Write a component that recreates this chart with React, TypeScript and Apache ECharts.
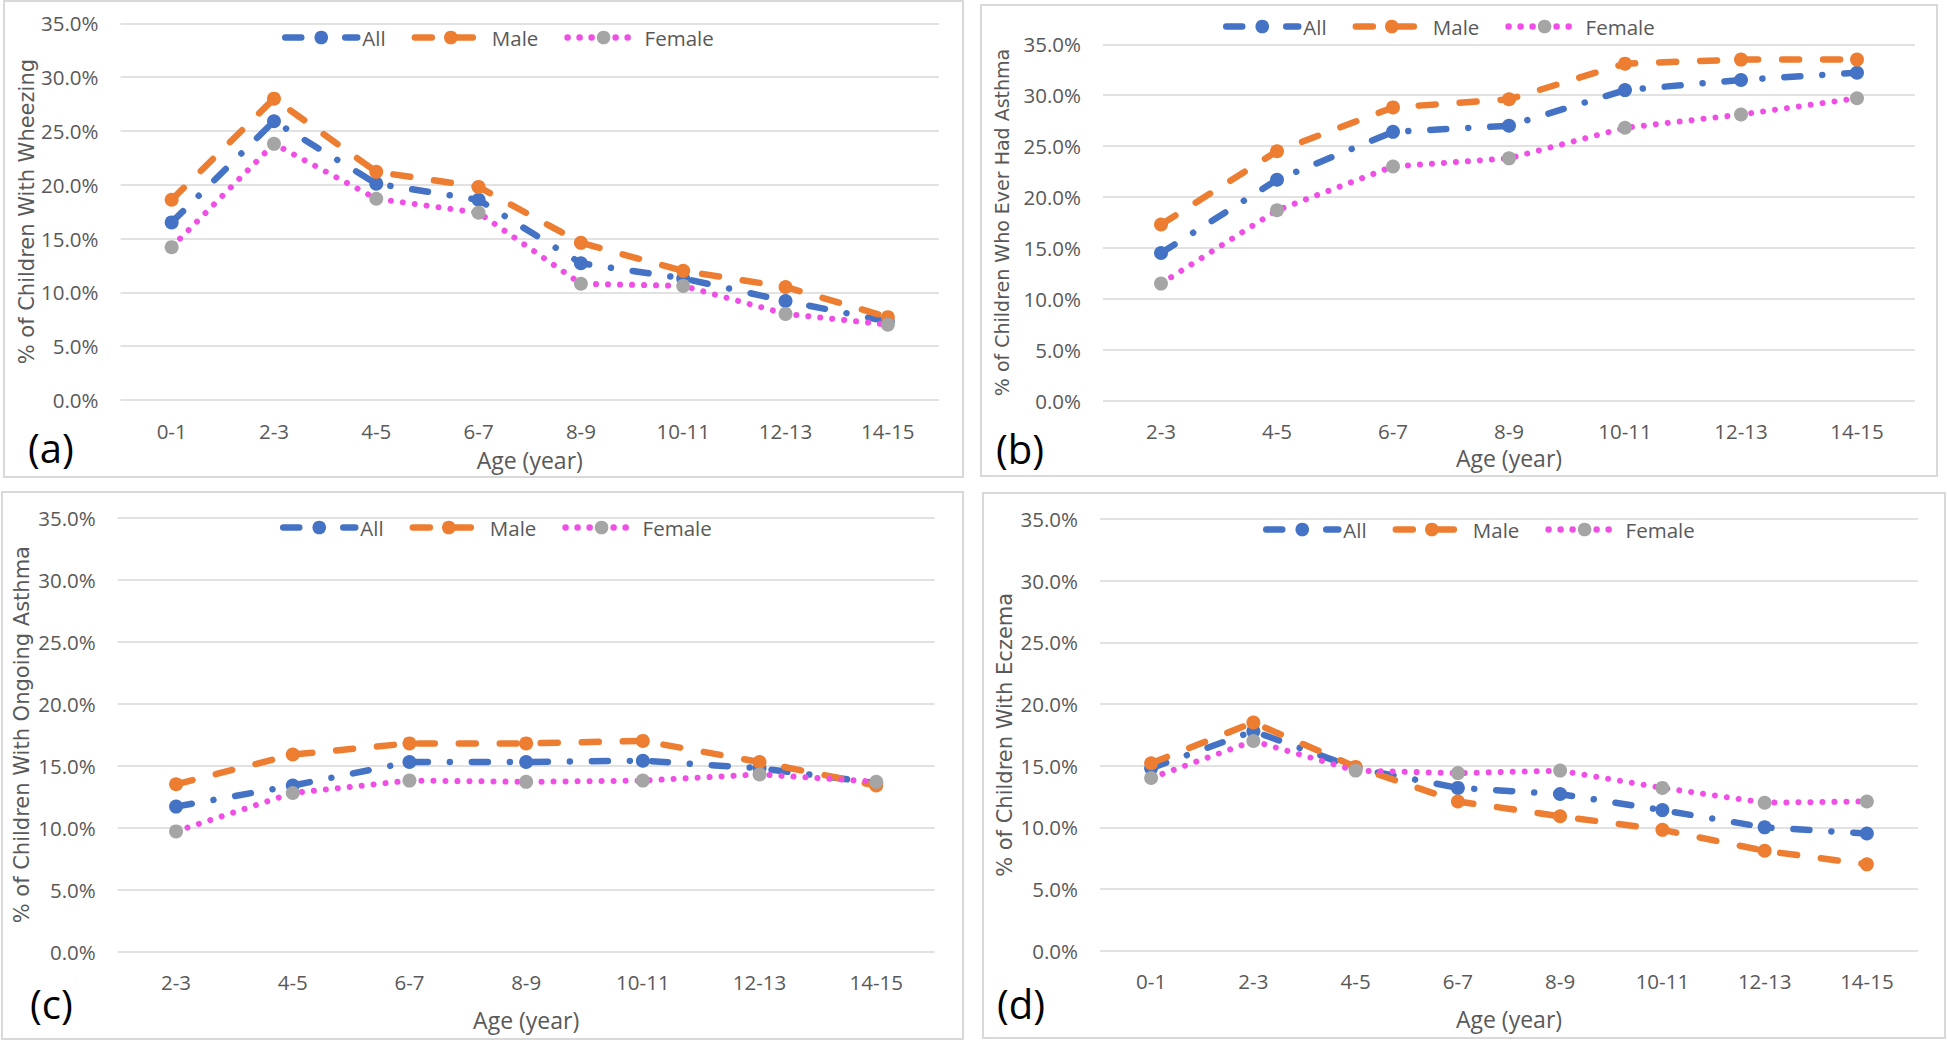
import React, { useEffect, useRef } from "react";
import * as echarts from "echarts";

// ---------- data ----------
const agesFrom0 = ["0-1", "2-3", "4-5", "6-7", "8-9", "10-11", "12-13", "14-15"];
const agesFrom2 = ["2-3", "4-5", "6-7", "8-9", "10-11", "12-13", "14-15"];

const wheezeAll = [16.5, 25.9, 20.1, 18.6, 12.7, 11.3, 9.2, 7.3];
const wheezeMale = [18.6, 28.0, 21.2, 19.8, 14.6, 12.0, 10.5, 7.7];
const wheezeFemale = [14.2, 23.8, 18.7, 17.4, 10.8, 10.6, 8.0, 7.0];

const everAll = [14.5, 21.7, 26.4, 27.0, 30.5, 31.5, 32.2];
const everMale = [17.3, 24.5, 28.8, 29.6, 33.1, 33.5, 33.5];
const everFemale = [11.5, 18.7, 23.0, 23.8, 26.8, 28.1, 29.7];

const ongoingAll = [11.7, 13.4, 15.3, 15.3, 15.4, 14.8, 13.6];
const ongoingMale = [13.5, 15.9, 16.8, 16.8, 17.0, 15.3, 13.4];
const ongoingFemale = [9.7, 12.8, 13.8, 13.7, 13.8, 14.3, 13.7];

const eczemaAll = [14.8, 17.8, 14.8, 13.2, 12.7, 11.4, 10.0, 9.5];
const eczemaMale = [15.2, 18.5, 14.9, 12.1, 10.9, 9.8, 8.1, 7.0];
const eczemaFemale = [14.0, 17.0, 14.6, 14.4, 14.6, 13.2, 12.0, 12.1];

const seriesNames = ["All", "Male", "Female"];
const yTitles = [
  "% of Children With Wheezing",
  "% of Children Who Ever Had Asthma",
  "% of Children With Ongoing Asthma",
  "% of Children With Eczema",
];
const panelLetters = ["(a)", "(b)", "(c)", "(d)"];
const xTitle = "Age (year)";

// ---------- layout / styles ----------
const layouts = [
  { grid: [120.5, 23.3, 818.5, 376.7], box: [4, 1, 959, 476], legend: [277, 22], letter: [28, 447], xGap: 48, yGap: 82, yFont: 21 },
  { grid: [1103, 44.3, 812, 356.4], box: [981, 5, 956, 471], legend: [1218, 11], letter: [996, 448], xGap: 46, yGap: 92, yFont: 19 },
  { grid: [117.7, 517.7, 816.9, 434], box: [2, 492, 961, 547], legend: [275, 512], letter: [30, 1003], xGap: 57, yGap: 85, yFont: 21 },
  { grid: [1100, 519, 818, 431.7], box: [983, 493, 962, 545], legend: [1258, 514], letter: [997, 1003], xGap: 57, yGap: 85, yFont: 21 },
];

const BLUE = "#4472C4";
const ORANGE = "#ED7D31";
const PINK = "#F04FE6";
const GRAY = "#A5A5A5";
const TEXT = "#595959";

const lineStyles = [
  { color: BLUE, width: 6.5, type: [16, 22, 0.01, 22], cap: "round" },
  { color: ORANGE, width: 6.5, type: [17, 24], cap: "round" },
  { color: PINK, width: 6, type: [0.01, 12], cap: "round" },
];
const markerColors = [BLUE, ORANGE, GRAY];

export default function App() {
  const ref = useRef<HTMLDivElement>(null);

  useEffect(() => {
    if (!ref.current) return;
    const chart = echarts.init(ref.current, undefined, { renderer: "svg" });

    const panelData = [
      { cats: agesFrom0, values: [wheezeAll, wheezeMale, wheezeFemale] },
      { cats: agesFrom2, values: [everAll, everMale, everFemale] },
      { cats: agesFrom2, values: [ongoingAll, ongoingMale, ongoingFemale] },
      { cats: agesFrom0, values: [eczemaAll, eczemaMale, eczemaFemale] },
    ];

    const series: any[] = [];
    panelData.forEach((p, i) => {
      p.values.forEach((vals, k) => {
        series.push({
          type: "line",
          name: seriesNames[k],
          xAxisIndex: i,
          yAxisIndex: i,
          data: vals,
          symbol: "circle",
          symbolSize: 14,
          showSymbol: true,
          lineStyle: { ...lineStyles[k] },
          itemStyle: { color: markerColors[k], borderWidth: 0 },
          emphasis: { disabled: true },
          z: 2 + k,
        });
      });
    });

    const graphic: any[] = [];
    layouts.forEach((l, i) => {
      graphic.push({
        type: "rect",
        shape: { x: l.box[0], y: l.box[1], width: l.box[2], height: l.box[3] },
        style: { fill: "none", stroke: "#D9D9D9", lineWidth: 2 },
        silent: true,
        z: -1,
      });
      graphic.push({
        type: "text",
        x: l.letter[0],
        y: l.letter[1],
        style: {
          text: panelLetters[i],
          fontFamily: "Open Sans",
          fontSize: 40,
          fill: "#000000",
          verticalAlign: "middle",
          align: "left",
        },
        silent: true,
      });
    });

    const option: any = {
      animation: false,
      backgroundColor: "#ffffff",
      grid: layouts.map((l) => ({
        left: l.grid[0],
        top: l.grid[1],
        width: l.grid[2],
        height: l.grid[3],
        containLabel: false,
      })),
      legend: layouts.map((l) => ({
        left: l.legend[0],
        top: l.legend[1],
        data: seriesNames,
        itemWidth: 72,
        itemHeight: 17,
        itemGap: 26,
        selectedMode: false,
        lineStyle: { width: 6.5, cap: "round" },
        textStyle: { fontFamily: "Open Sans", fontSize: 20.5, color: TEXT },
      })),
      xAxis: panelData.map((p, i) => ({
        type: "category",
        gridIndex: i,
        data: p.cats,
        boundaryGap: true,
        axisLine: { show: false },
        axisTick: { show: false },
        axisLabel: { fontFamily: "Open Sans", fontSize: 20.5, color: TEXT, margin: 20 },
        name: xTitle,
        nameLocation: "middle",
        nameGap: layouts[i].xGap,
        nameTextStyle: { fontFamily: "Open Sans", fontSize: 23, color: TEXT },
      })),
      yAxis: panelData.map((p, i) => ({
        type: "value",
        gridIndex: i,
        min: 0,
        max: 35,
        interval: 5,
        axisLine: { show: false },
        axisTick: { show: false },
        splitLine: { lineStyle: { color: "#D9D9D9", width: 1.5 } },
        axisLabel: {
          fontFamily: "Open Sans",
          fontSize: 20.5,
          color: TEXT,
          margin: 22,
          formatter: (v: number) => v.toFixed(1) + "%",
        },
        name: yTitles[i],
        nameLocation: "middle",
        nameGap: layouts[i].yGap,
        nameTextStyle: { fontFamily: "DejaVu Sans", fontSize: layouts[i].yFont, color: TEXT },
      })),
      series,
      graphic,
    };

    chart.setOption(option);
    return () => chart.dispose();
  }, []);

  return (
    <div
      ref={ref}
      style={{ position: "fixed", left: 0, top: 0, width: 1947, height: 1042, background: "#fff" }}
    />
  );
}
